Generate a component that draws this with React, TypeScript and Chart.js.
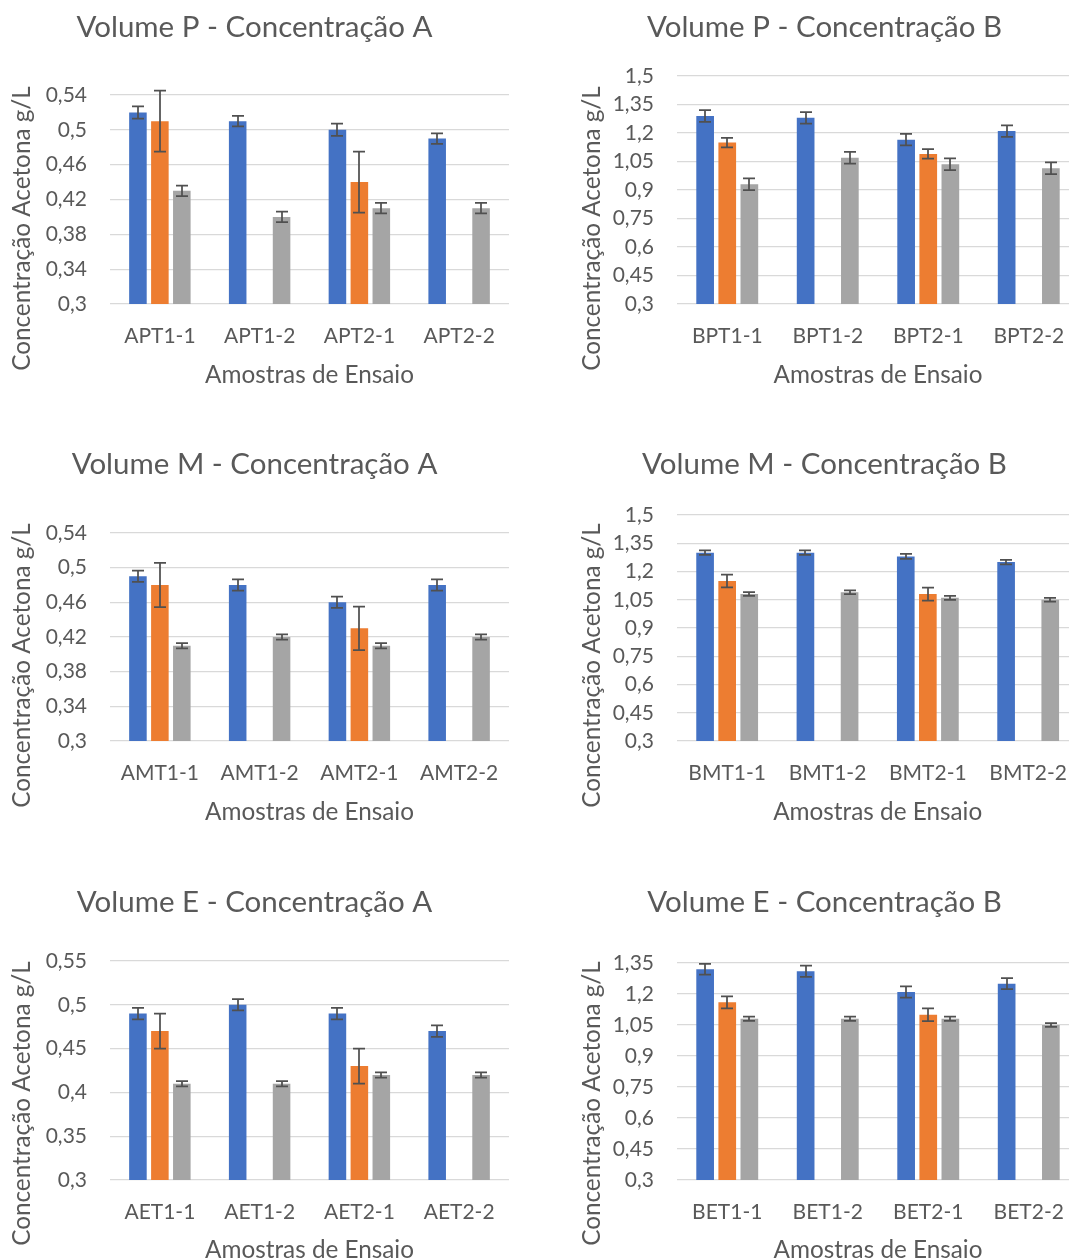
import React, { useEffect, useRef } from 'react';
import { Chart, registerables } from 'chart.js';

Chart.register(...registerables);

const FONT = 'Lato, "Open Sans", sans-serif';
const TEXT_COLOR = '#595959';
const GRID_COLOR = '#D9D9D9';
const ERROR_COLOR = '#505050';
const SERIES_COLORS = ['#4472C4', '#ED7D31', '#A5A5A5'];
const SERIES_NAMES = ['Série 1', 'Série 2', 'Série 3'];

const X_TITLE = 'Amostras de Ensaio';
const Y_TITLE = 'Concentração Acetona g/L';

// Volume P - Concentração A
const pA_categories = ['APT1-1', 'APT1-2', 'APT2-1', 'APT2-2'];
const pA_s1 = [0.52, 0.51, 0.5, 0.49];
const pA_s1Err = [0.007, 0.006, 0.007, 0.006];
const pA_s2 = [0.51, null, 0.44, null];
const pA_s2Err = [0.035, null, 0.035, null];
const pA_s3 = [0.43, 0.4, 0.41, 0.41];
const pA_s3Err = [0.006, 0.006, 0.006, 0.006];
const pA_ticks = [0.3, 0.34, 0.38, 0.42, 0.46, 0.5, 0.54];

// Volume P - Concentração B
const pB_categories = ['BPT1-1', 'BPT1-2', 'BPT2-1', 'BPT2-2'];
const pB_s1 = [1.29, 1.28, 1.165, 1.21];
const pB_s1Err = [0.031, 0.03, 0.03, 0.03];
const pB_s2 = [1.15, null, 1.09, null];
const pB_s2Err = [0.025, null, 0.025, null];
const pB_s3 = [0.93, 1.07, 1.035, 1.015];
const pB_s3Err = [0.031, 0.031, 0.031, 0.031];
const pB_ticks = [0.3, 0.45, 0.6, 0.75, 0.9, 1.05, 1.2, 1.35, 1.5];

// Volume M - Concentração A
const mA_categories = ['AMT1-1', 'AMT1-2', 'AMT2-1', 'AMT2-2'];
const mA_s1 = [0.49, 0.48, 0.46, 0.48];
const mA_s1Err = [0.0065, 0.0065, 0.0065, 0.0065];
const mA_s2 = [0.48, null, 0.43, null];
const mA_s2Err = [0.0255, null, 0.025, null];
const mA_s3 = [0.41, 0.42, 0.41, 0.42];
const mA_s3Err = [0.003, 0.003, 0.003, 0.003];
const mA_ticks = [0.3, 0.34, 0.38, 0.42, 0.46, 0.5, 0.54];

// Volume M - Concentração B
const mB_categories = ['BMT1-1', 'BMT1-2', 'BMT2-1', 'BMT2-2'];
const mB_s1 = [1.3, 1.3, 1.28, 1.25];
const mB_s1Err = [0.012, 0.012, 0.013, 0.012];
const mB_s2 = [1.15, null, 1.08, null];
const mB_s2Err = [0.034, null, 0.035, null];
const mB_s3 = [1.08, 1.09, 1.06, 1.05];
const mB_s3Err = [0.01, 0.01, 0.01, 0.01];
const mB_ticks = [0.3, 0.45, 0.6, 0.75, 0.9, 1.05, 1.2, 1.35, 1.5];

// Volume E - Concentração A
const eA_categories = ['AET1-1', 'AET1-2', 'AET2-1', 'AET2-2'];
const eA_s1 = [0.49, 0.5, 0.49, 0.47];
const eA_s1Err = [0.0065, 0.0065, 0.0065, 0.0065];
const eA_s2 = [0.47, null, 0.43, null];
const eA_s2Err = [0.02, null, 0.02, null];
const eA_s3 = [0.41, 0.41, 0.42, 0.42];
const eA_s3Err = [0.003, 0.003, 0.003, 0.003];
const eA_ticks = [0.3, 0.35, 0.4, 0.45, 0.5, 0.55];

// Volume E - Concentração B
const eB_categories = ['BET1-1', 'BET1-2', 'BET2-1', 'BET2-2'];
const eB_s1 = [1.32, 1.31, 1.21, 1.25];
const eB_s1Err = [0.026, 0.027, 0.027, 0.027];
const eB_s2 = [1.16, null, 1.1, null];
const eB_s2Err = [0.029, null, 0.031, null];
const eB_s3 = [1.08, 1.08, 1.08, 1.05];
const eB_s3Err = [0.01, 0.01, 0.01, 0.009];
const eB_ticks = [0.3, 0.45, 0.6, 0.75, 0.9, 1.05, 1.2, 1.35];

type Panel = {
  title: string;
  categories: string[];
  series: (number | null)[][];
  errors: (number | null)[][];
  ticks: number[];
  left: number;
  top: number;
  width: number;
  height: number;
  plotTop: number;
  plotBottom: number;
  axisWidth: number;
  padRight: number;
};

// The right-hand column runs past the page edge and is clipped there.
const LEFT_COL = { left: 0, width: 535, axisWidth: 110, padRight: 26 };
const RIGHT_COL = { left: 570, width: 509, axisWidth: 107, padRight: 0 };
const ROW_TOPS = [0, 437, 875];
const PANEL_HEIGHT = 438;

const panels: Panel[] = [
  {
    title: 'Volume P - Concentração A', categories: pA_categories,
    series: [pA_s1, pA_s2, pA_s3], errors: [pA_s1Err, pA_s2Err, pA_s3Err], ticks: pA_ticks,
    ...LEFT_COL, top: ROW_TOPS[0], height: PANEL_HEIGHT, plotTop: 95, plotBottom: 304,
  },
  {
    title: 'Volume P - Concentração B', categories: pB_categories,
    series: [pB_s1, pB_s2, pB_s3], errors: [pB_s1Err, pB_s2Err, pB_s3Err], ticks: pB_ticks,
    ...RIGHT_COL, top: ROW_TOPS[0], height: PANEL_HEIGHT, plotTop: 76, plotBottom: 304,
  },
  {
    title: 'Volume M - Concentração A', categories: mA_categories,
    series: [mA_s1, mA_s2, mA_s3], errors: [mA_s1Err, mA_s2Err, mA_s3Err], ticks: mA_ticks,
    ...LEFT_COL, top: ROW_TOPS[1], height: PANEL_HEIGHT, plotTop: 96, plotBottom: 304,
  },
  {
    title: 'Volume M - Concentração B', categories: mB_categories,
    series: [mB_s1, mB_s2, mB_s3], errors: [mB_s1Err, mB_s2Err, mB_s3Err], ticks: mB_ticks,
    ...RIGHT_COL, top: ROW_TOPS[1], height: PANEL_HEIGHT, plotTop: 78, plotBottom: 304,
  },
  {
    title: 'Volume E - Concentração A', categories: eA_categories,
    series: [eA_s1, eA_s2, eA_s3], errors: [eA_s1Err, eA_s2Err, eA_s3Err], ticks: eA_ticks,
    ...LEFT_COL, top: ROW_TOPS[2], height: PANEL_HEIGHT, plotTop: 86, plotBottom: 305,
  },
  {
    title: 'Volume E - Concentração B', categories: eB_categories,
    series: [eB_s1, eB_s2, eB_s3], errors: [eB_s1Err, eB_s2Err, eB_s3Err], ticks: eB_ticks,
    ...RIGHT_COL, top: ROW_TOPS[2], height: PANEL_HEIGHT, plotTop: 88, plotBottom: 305,
  },
];

const TITLE_SIZE = 29.5;
const TITLE_PAD_TOP = 9.3;
const TICK_SIZE = 21;
const AXIS_TITLE_SIZE = 24.3;

// Draws ± error whiskers with caps on every bar that has an error value.
const errorBarsPlugin = {
  id: 'errorBars',
  afterDatasetsDraw(chart: any) {
    const ctx = chart.ctx;
    const yScale = chart.scales.y;
    chart.data.datasets.forEach((ds: any, i: number) => {
      const errs = ds.errors as (number | null)[] | undefined;
      if (!errs) return;
      const meta = chart.getDatasetMeta(i);
      meta.data.forEach((bar: any, j: number) => {
        const v = ds.data[j];
        const e = errs[j];
        if (v == null || e == null) return;
        const x = Math.round(bar.x);
        const yTop = yScale.getPixelForValue(v + e);
        const yBot = yScale.getPixelForValue(v - e);
        const cap = 6;
        ctx.save();
        ctx.strokeStyle = ERROR_COLOR;
        ctx.lineWidth = 1.75;
        ctx.beginPath();
        ctx.moveTo(x, yTop);
        ctx.lineTo(x, yBot);
        ctx.moveTo(x - cap, yTop);
        ctx.lineTo(x + cap, yTop);
        ctx.moveTo(x - cap, yBot);
        ctx.lineTo(x + cap, yBot);
        ctx.stroke();
        ctx.restore();
      });
    });
  },
};

// Vertical value-axis caption, centred on the panel's plot block.
const sideTitlePlugin = {
  id: 'sideTitle',
  afterDraw(chart: any, _args: any, opts: any) {
    const ctx = chart.ctx;
    ctx.save();
    ctx.translate(opts.x, opts.y);
    ctx.rotate(-Math.PI / 2);
    ctx.font = `${AXIS_TITLE_SIZE}px ${FONT}`;
    ctx.fillStyle = TEXT_COLOR;
    ctx.textAlign = 'center';
    ctx.textBaseline = 'middle';
    ctx.fillText(opts.text, 0, 0);
    ctx.restore();
  },
};

const formatTick = (v: number) => String(Number(v.toFixed(2))).replace('.', ',');

function ChartPanel({ panel }: { panel: Panel }) {
  const ref = useRef<HTMLCanvasElement | null>(null);

  useEffect(() => {
    if (!ref.current) return;
    const p = panel;
    const titleBlock = TITLE_PAD_TOP + TITLE_SIZE * 1.2;
    const chart = new Chart(ref.current, {
      type: 'bar',
      data: {
        labels: p.categories,
        datasets: p.series.map((values, i) => ({
          label: SERIES_NAMES[i],
          data: values,
          errors: p.errors[i],
          backgroundColor: SERIES_COLORS[i],
          borderWidth: 0,
          barPercentage: 0.8,
          categoryPercentage: 0.66,
        })) as any,
      },
      options: {
        responsive: false,
        animation: false,
        devicePixelRatio: 1,
        layout: { padding: { left: 0, right: p.padRight, top: 0, bottom: 0 } },
        plugins: {
          legend: { display: false },
          tooltip: { enabled: false },
          title: {
            display: true,
            text: p.title,
            color: TEXT_COLOR,
            font: { family: FONT, size: TITLE_SIZE, weight: 'normal', lineHeight: 1.2 },
            padding: { top: TITLE_PAD_TOP, bottom: p.plotTop - titleBlock },
          },
          sideTitle: { text: Y_TITLE, x: 22, y: 228.5 },
        } as any,
        scales: {
          x: {
            grid: { display: false },
            border: { display: false },
            ticks: {
              color: TEXT_COLOR,
              font: { family: FONT, size: TICK_SIZE, lineHeight: 1.2 },
              padding: 12,
              maxRotation: 0,
            },
            title: {
              display: true,
              text: X_TITLE,
              color: TEXT_COLOR,
              font: { family: FONT, size: AXIS_TITLE_SIZE, lineHeight: 1.2 },
              padding: { top: 0, bottom: 48.5 },
            },
            afterFit: (scale: any) => {
              scale.height = p.height - p.plotBottom;
            },
          },
          y: {
            min: p.ticks[0],
            max: p.ticks[p.ticks.length - 1],
            afterBuildTicks: (scale: any) => {
              scale.ticks = p.ticks.map((v) => ({ value: v }));
            },
            afterFit: (scale: any) => {
              scale.width = p.axisWidth;
            },
            grid: { color: GRID_COLOR, lineWidth: 1.3, drawTicks: false },
            border: { display: false },
            ticks: {
              color: TEXT_COLOR,
              font: { family: FONT, size: TICK_SIZE, lineHeight: 1.2 },
              padding: 23,
              callback: (v: any) => formatTick(Number(v)),
            },
          },
        },
      } as any,
      plugins: [errorBarsPlugin, sideTitlePlugin],
    });
    return () => chart.destroy();
  }, [panel]);

  return (
    <canvas
      ref={ref}
      width={panel.width}
      height={panel.height}
      style={{
        position: 'absolute',
        left: panel.left,
        top: panel.top,
        width: panel.width,
        height: panel.height,
      }}
    />
  );
}

export default function App() {
  return (
    <div
      style={{
        position: 'absolute',
        left: 0,
        top: 0,
        width: 1069,
        height: 1260,
        overflow: 'hidden',
        background: '#ffffff',
      }}
    >
      {panels.map((p) => (
        <ChartPanel key={p.title} panel={p} />
      ))}
    </div>
  );
}
